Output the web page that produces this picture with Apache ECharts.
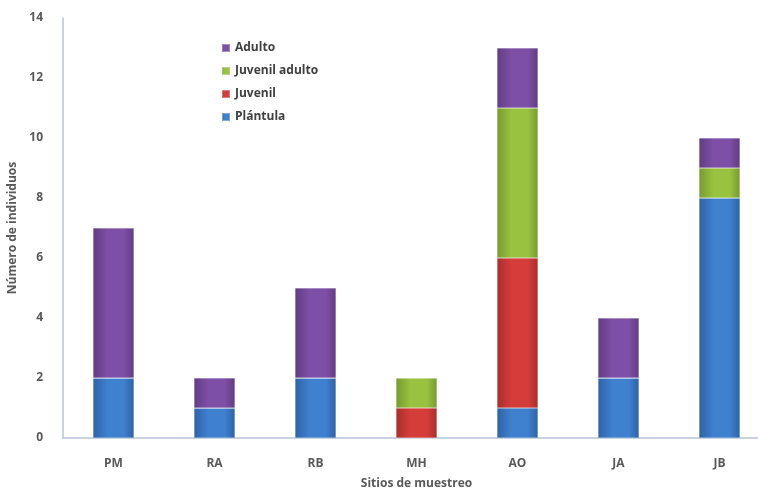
<!DOCTYPE html>
<html><head><meta charset="utf-8">
<script src="https://cdn.jsdelivr.net/npm/echarts@6/dist/echarts.min.js"></script>
<style>html,body{margin:0;padding:0;background:#fff}#c{width:758px;height:492px}</style>
</head><body><div id="c"></div>
<script>
const categories = ['PM','RA','RB','MH','AO','JA','JB'];
const plantula = [2,1,2,0,1,2,8];
const juvenil = [0,0,0,1,5,0,0];
const juvenilAdulto = [0,0,0,1,5,0,1];
const adulto = [5,1,3,0,2,2,1];
const yTicks = [0,2,4,6,8,10,12,14];

function grad(c1, c2){
  return new echarts.graphic.LinearGradient(0,0,1,0,[
    {offset:0,color:c2},{offset:0.35,color:c1},{offset:0.75,color:c1},{offset:1,color:c2}]);
}
const chart = echarts.init(document.getElementById('c'));
const txt = {color:'#595959', fontFamily:'Open Sans, Liberation Sans, sans-serif', fontWeight:'bold', fontSize:12};
function s(name, data, c1, c2){
  return {name, type:'bar', stack:'t', data, barWidth:41,
    itemStyle:{color:grad(c1,c2), borderColor:'rgba(255,255,255,0.35)', borderWidth:0.5}};
}
chart.setOption({
  animation:false,
  grid:{left:63, top:18, width:707, height:420, outerBoundsMode:'none', containLabel:false},
  legend:{orient:'vertical', left:216, top:37, itemGap:11, itemWidth:8, itemHeight:8, icon:'rect',
    textStyle:{...txt, fontSize:12, color:'#404040'},
    data:['Adulto','Juvenil adulto','Juvenil','Plántula']},
  xAxis:{type:'category', data:categories,
    name:'Sitios de muestreo', nameLocation:'middle', nameGap:40, nameTextStyle:{...txt},
    axisLine:{lineStyle:{color:'#b8c4d6', width:1.5}}, axisTick:{show:false},
    axisLabel:{...txt, margin:20}},
  yAxis:{type:'value', min:0, max:14, interval:2,
    name:'Número de individuos', nameLocation:'middle', nameGap:31, nameTextStyle:{...txt},
    axisLine:{show:true, lineStyle:{color:'#b8c4d6', width:1.5}}, axisTick:{show:false},
    splitLine:{show:false},
    axisLabel:{...txt, margin:20, formatter:v=>yTicks.includes(v)?String(v):''}},
  series:[
    s('Plántula', plantula, '#3f80cf', '#2f62a5'),
    s('Juvenil', juvenil, '#d53d3a', '#a82e2c'),
    s('Juvenil adulto', juvenilAdulto, '#98c240', '#789a30'),
    s('Adulto', adulto, '#7e4fa6', '#613c82')
  ]
});
</script></body></html>
